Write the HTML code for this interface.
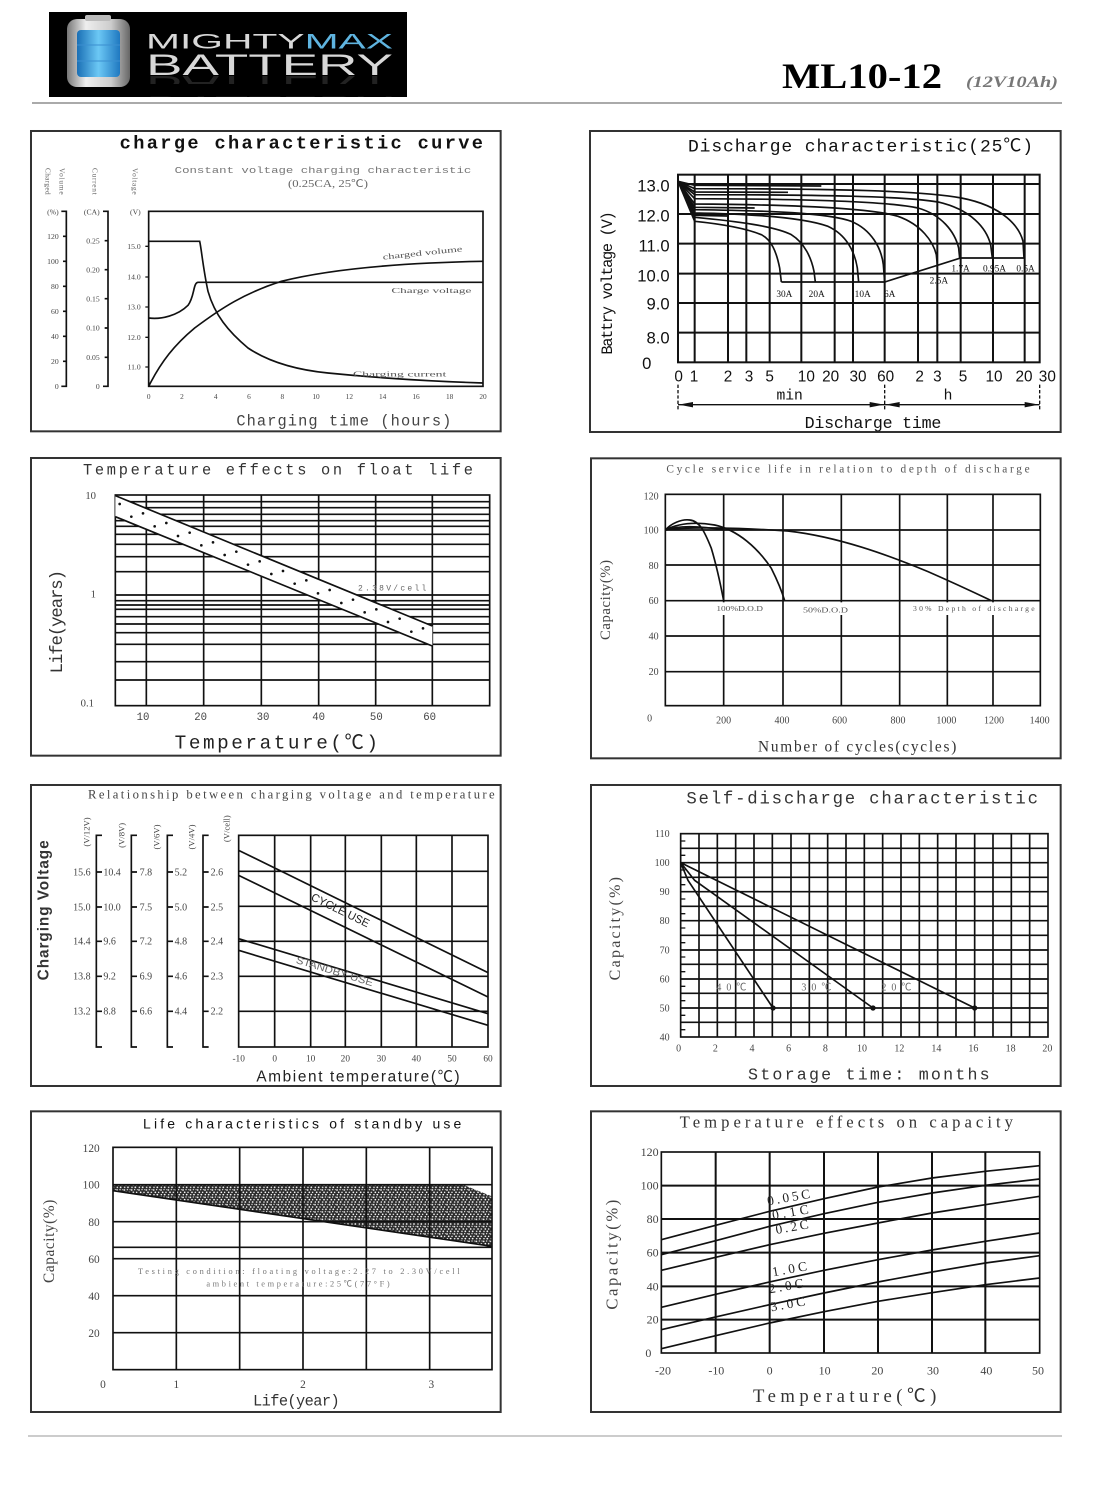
<!DOCTYPE html>
<html><head><meta charset="utf-8"><style>
html,body{margin:0;padding:0;background:#fff;}
svg{display:block;}
text{font-family:"Liberation Serif","Noto Sans CJK SC",serif;}
.m, .m text, text.m{font-family:"Liberation Mono","Noto Sans CJK SC",monospace;}
.s, .s text, text.s{font-family:"Liberation Sans","Noto Sans CJK SC",sans-serif;}
.g, .g text{fill:#444;}
.gr{stroke:#111;fill:none;}
.cv{stroke:#111;fill:none;stroke-width:5;}
</style></head><body>
<svg width="1114" height="1500" viewBox="0 0 1114 1500" xmlns="http://www.w3.org/2000/svg">
<defs>
<linearGradient id="silv" x1="0" x2="1" y1="0" y2="0"><stop offset="0" stop-color="#777"/><stop offset="0.3" stop-color="#eee"/><stop offset="0.7" stop-color="#ccc"/><stop offset="1" stop-color="#666"/></linearGradient>
<linearGradient id="blu" x1="0" x2="1" y1="0" y2="0"><stop offset="0" stop-color="#1a6fb5"/><stop offset="0.5" stop-color="#6cc8f5"/><stop offset="1" stop-color="#1f78c0"/></linearGradient>
<pattern id="spk" width="22" height="22" patternUnits="userSpaceOnUse">
<rect width="22" height="22" fill="#2a2a2a"/>
<circle cx="3" cy="4" r="2.6" fill="#fff"/><circle cx="12" cy="3" r="2" fill="#fff"/><circle cx="8" cy="11" r="2.6" fill="#fff"/><circle cx="18" cy="11" r="2.2" fill="#fff"/><circle cx="4" cy="18" r="2.2" fill="#fff"/><circle cx="14" cy="18" r="2.6" fill="#fff"/><circle cx="20" cy="3" r="1.6" fill="#fff"/>
</pattern>
</defs>
<rect width="1114" height="1500" fill="#fff"/>

<!-- HEADER -->
<rect x="49" y="12" width="358" height="85" fill="#000"/>
<rect x="67" y="19" width="63" height="68" rx="10" fill="url(#silv)"/>
<rect x="85" y="15" width="26" height="6" rx="2" fill="#bbb"/>
<rect x="77" y="30" width="43" height="47" rx="4" fill="url(#blu)"/>
<line x1="77" y1="45" x2="120" y2="45" stroke="#3b8fd0" stroke-width="1"/>
<line x1="77" y1="61" x2="120" y2="61" stroke="#3b8fd0" stroke-width="1"/>
<text class="s" x="146" y="48.5" font-size="21" textLength="247" lengthAdjust="spacingAndGlyphs"><tspan fill="#d8d8d8">MIGHTY</tspan><tspan fill="#5fb4e0">MAX</tspan></text>
<text class="s" x="146" y="75" font-size="30" fill="#d8d8d8" textLength="247" lengthAdjust="spacingAndGlyphs">BATTERY</text>
<text class="s" x="146" y="77" font-size="30" fill="#444" opacity="0.5" textLength="247" lengthAdjust="spacingAndGlyphs" transform="translate(0,153) scale(1,-1)">BATTERY</text>
<rect x="140" y="84" width="260" height="12" fill="#000"/>
<text x="782" y="88" font-size="36" font-weight="bold" fill="#000" textLength="160" lengthAdjust="spacingAndGlyphs">ML10-12</text>
<text x="966" y="87" font-size="16" font-style="italic" font-weight="bold" fill="#777" textLength="92" lengthAdjust="spacingAndGlyphs">(12V10Ah)</text>
<line x1="32" y1="103" x2="1062" y2="103" stroke="#aaa" stroke-width="2"/>

<!-- PANEL 1 -->
<g transform="translate(28,128) scale(0.33333)">
<rect x="9" y="9" width="1409" height="901" fill="none" stroke="#333" stroke-width="6"/>
<text class="m" x="275" y="62" font-size="56" font-weight="bold" fill="#111" textLength="1090" lengthAdjust="spacing">charge characteristic curve</text>
<text class="m" x="440" y="135" font-size="27" fill="#777" textLength="890" lengthAdjust="spacingAndGlyphs">Constant voltage charging characteristic</text>
<text x="780" y="177" font-size="30" fill="#666" textLength="240" lengthAdjust="spacingAndGlyphs">(0.25CA, 25℃)</text>
<text font-size="22" fill="#666" transform="translate(52,120) rotate(90)" textLength="80">Charged</text>
<text font-size="22" fill="#666" transform="translate(94,120) rotate(90)" textLength="80">Volume</text>
<text font-size="22" fill="#666" transform="translate(194,120) rotate(90)" textLength="80">Current</text>
<text font-size="22" fill="#666" transform="translate(314,120) rotate(90)" textLength="80">Voltage</text>
<rect x="362" y="250" width="1003" height="525" fill="none" stroke="#111" stroke-width="5"/>
<path class="gr" stroke-width="5" d="M100,250H115V775H100M105,325H115M105,400H115M105,475H115M105,550H115M105,625H115M105,700H115"/>
<path class="gr" stroke-width="5" d="M225,250H240V775H225M230,338H240M230,425H240M230,512H240M230,600H240M230,688H240"/>
<path class="gr" stroke-width="4" d="M352,355H362M352,447H362M352,537H362M352,628H362M352,717H362"/>
<g font-size="23" class="g" text-anchor="end">
<text x="92" y="260">(%)</text><text x="92" y="333">120</text><text x="92" y="408">100</text><text x="92" y="483">80</text><text x="92" y="558">60</text><text x="92" y="633">40</text><text x="92" y="708">20</text><text x="92" y="783">0</text>
<text x="215" y="260">(CA)</text><text x="215" y="346">0.25</text><text x="215" y="433">0.20</text><text x="215" y="520">0.15</text><text x="215" y="608">0.10</text><text x="215" y="696">0.05</text><text x="215" y="783">0</text>
<text x="338" y="260">(V)</text><text x="338" y="363">15.0</text><text x="338" y="455">14.0</text><text x="338" y="545">13.0</text><text x="338" y="636">12.0</text><text x="338" y="725">11.0</text>
</g>
<g font-size="22" class="g" text-anchor="middle">
<text x="362" y="813">0</text><text x="462" y="813">2</text><text x="563" y="813">4</text><text x="663" y="813">6</text><text x="763" y="813">8</text><text x="864" y="813">10</text><text x="964" y="813">12</text><text x="1064" y="813">14</text><text x="1164" y="813">16</text><text x="1265" y="813">18</text><text x="1365" y="813">20</text>
</g>
<text class="m" x="625" y="892" font-size="46" fill="#444" textLength="645" lengthAdjust="spacing">Charging time (hours)</text>
<path class="cv" d="M362,340 L515,340 C520,360 525,420 540,490 C560,560 600,610 660,660 C720,700 800,725 900,735 C1050,750 1200,760 1365,765"/>
<path class="cv" d="M362,570 C400,575 450,562 480,532 C500,505 495,465 510,463 L1365,463"/>
<path class="cv" d="M362,775 C400,700 440,650 500,600 C580,540 650,495 760,460 C900,425 1100,405 1365,400"/>
<text x="1065" y="395" font-size="24" fill="#555" textLength="240" lengthAdjust="spacingAndGlyphs" transform="rotate(-6 1065 395)">charged volume</text>
<text x="1090" y="495" font-size="22" fill="#555" textLength="240" lengthAdjust="spacingAndGlyphs">Charge voltage</text>
<text x="975" y="746" font-size="22" fill="#555" textLength="280" lengthAdjust="spacingAndGlyphs">Charging current</text>
</g>

<!-- PANEL 2 -->
<g transform="translate(588,128) scale(0.33333)">
<rect x="6" y="9" width="1412" height="903" fill="none" stroke="#333" stroke-width="6"/>
<text class="m" x="300" y="70" font-size="54" fill="#111" textLength="1035" lengthAdjust="spacing">Discharge characteristic(25℃)</text>
<rect x="270" y="140" width="1085" height="563" fill="none" stroke="#111" stroke-width="6"/>
<path class="gr" stroke-width="6" d="M270,168H1355M270,258H1355M270,347H1355M270,437H1355M270,525H1355M270,614H1355M320,140V703M420,140V703M475,140V703M545,140V703M640,140V703M740,140V703M795,140V703M890,140V703M990,140V703M1048,140V703M1118,140V703M1215,140V703M1310,140V703"/>
<g class="s" font-size="50" fill="#111" text-anchor="end">
<text x="245" y="190">13.0</text><text x="245" y="280">12.0</text><text x="245" y="370">11.0</text><text x="245" y="460">10.0</text><text x="245" y="545">9.0</text><text x="245" y="646">8.0</text><text x="190" y="723">0</text>
</g>
<g class="s" font-size="46" fill="#111" text-anchor="middle">
<text x="272" y="760">0</text><text x="318" y="760">1</text><text x="420" y="760">2</text><text x="483" y="760">3</text><text x="545" y="760">5</text><text x="655" y="760">10</text><text x="728" y="760">20</text><text x="810" y="760">30</text><text x="893" y="760">60</text><text x="995" y="760">2</text><text x="1048" y="760">3</text><text x="1125" y="760">5</text><text x="1218" y="760">10</text><text x="1308" y="760">20</text><text x="1378" y="760">30</text>
</g>
<text class="m" x="605" y="815" font-size="44" fill="#111" text-anchor="middle">min</text>
<text class="m" x="1080" y="815" font-size="44" fill="#111" text-anchor="middle">h</text>
<path stroke="#111" stroke-width="4" fill="none" d="M270,830H1355"/>
<path stroke="#111" stroke-width="4" fill="none" stroke-dasharray="10,6" d="M270,770V850M890,770V850M1355,770V850"/>
<path fill="#111" d="M272,830 L315,822 L315,838Z M888,830 L845,822 L845,838Z M892,830 L935,822 L935,838Z M1353,830 L1310,822 L1310,838Z"/>
<text class="m" x="650" y="900" font-size="50" fill="#111" textLength="410" lengthAdjust="spacing">Discharge time</text>
<text class="m" font-size="46" fill="#111" text-anchor="middle" transform="translate(72,465) rotate(-90)" textLength="430" lengthAdjust="spacing">Battry voltage (V)</text>
<g class="cv" stroke-width="5">
<path d="M270,160 L320,280 C400,288 470,300 520,320 C550,335 565,370 575,420 L580,462"/>
<path d="M270,160 L320,268 C450,280 560,295 610,320 C650,345 670,390 678,430 L682,462"/>
<path d="M270,160 L320,255 C500,258 650,270 720,295 C775,320 800,370 808,420 L812,462"/>
<path d="M270,160 L320,245 C550,248 720,255 790,280 C850,305 880,360 886,410 L890,462"/>
<path d="M270,160 L320,228 C600,230 850,240 930,265 C1000,290 1035,340 1045,380 L1048,412"/>
<path d="M270,160 L320,212 C650,213 900,220 990,240 C1060,260 1100,310 1112,360 L1115,390"/>
<path d="M270,160 L320,200 C700,200 950,205 1050,222 C1150,245 1195,300 1208,350 L1213,390"/>
<path d="M270,160 L320,182 C750,182 1000,188 1120,210 C1250,235 1295,300 1305,340 L1308,390"/>
<path d="M270,160 L320,172 L700,174 M270,160 L320,192 L600,193 M270,160 L320,238 L500,240 M270,160 L320,262 L420,264"/>
<path d="M580,462 L890,462 L1118,390 L1310,390"/>
</g>
<g font-size="28" fill="#111">
<text x="565" y="507">30A</text><text x="662" y="507">20A</text><text x="800" y="507">10A</text><text x="888" y="507">6A</text><text x="1025" y="467">2.5A</text><text x="1090" y="430">1.7A</text><text x="1185" y="430">0.95A</text><text x="1285" y="430">0.5A</text>
</g>
</g>

<!-- PANEL 3 -->
<g transform="translate(28,455) scale(0.33333)">
<rect x="9" y="9" width="1409" height="893" fill="none" stroke="#333" stroke-width="6"/>
<text class="m" x="165" y="58" font-size="46" fill="#333" textLength="1170" lengthAdjust="spacing">Temperature effects on float life</text>
<rect x="262" y="120" width="1123" height="632" fill="none" stroke="#111" stroke-width="5"/>
<path class="gr" stroke-width="5" d="M355,120V752M527,120V752M700,120V752M872,120V752M1043,120V752M1213,120V752M262,140H1385M262,158H1385M262,178H1385M262,197H1385M262,214H1385M262,238H1385M262,268H1385M262,305H1385M262,350H1385M262,420H1385M262,437H1385M262,450H1385M262,463H1385M262,485H1385M262,507H1385M262,533H1385M262,568H1385M262,620H1385M262,675H1385"/>
<path d="M262,122 L1213,513 L1213,573 L262,185Z" fill="#fff" stroke="none"/>
<path class="cv" d="M262,122 L1213,513 M262,185 L1213,573"/>
<g fill="#111">
<circle cx="275" cy="147" r="4"/><circle cx="310" cy="185" r="4"/><circle cx="345" cy="175" r="4"/><circle cx="380" cy="214" r="4"/><circle cx="415" cy="204" r="4"/><circle cx="450" cy="243" r="4"/><circle cx="485" cy="233" r="4"/><circle cx="520" cy="271" r="4"/><circle cx="555" cy="262" r="4"/><circle cx="590" cy="300" r="4"/><circle cx="625" cy="290" r="4"/><circle cx="660" cy="329" r="4"/><circle cx="695" cy="319" r="4"/><circle cx="730" cy="357" r="4"/><circle cx="765" cy="348" r="4"/><circle cx="800" cy="386" r="4"/><circle cx="835" cy="376" r="4"/><circle cx="870" cy="415" r="4"/><circle cx="905" cy="405" r="4"/><circle cx="940" cy="444" r="4"/><circle cx="975" cy="434" r="4"/><circle cx="1010" cy="472" r="4"/><circle cx="1045" cy="463" r="4"/><circle cx="1080" cy="501" r="4"/><circle cx="1115" cy="491" r="4"/><circle cx="1150" cy="530" r="4"/><circle cx="1185" cy="520" r="4"/>
</g>
<text class="m" x="990" y="406" font-size="24" fill="#666" textLength="205" lengthAdjust="spacing">2.38V/cell</text>
<g font-size="32" class="g">
<text x="172" y="132">10</text><text x="188" y="428">1</text><text x="158" y="755">0.1</text>
</g>
<g class="m g" font-size="32" text-anchor="middle">
<text x="345" y="795">10</text><text x="518" y="795">20</text><text x="705" y="795">30</text><text x="872" y="795">40</text><text x="1045" y="795">50</text><text x="1205" y="795">60</text>
</g>
<text class="m" font-size="52" fill="#333" text-anchor="middle" transform="translate(102,500) rotate(-90)" textLength="310" lengthAdjust="spacing">Life(years)</text>
<text class="m" x="440" y="880" font-size="58" fill="#222" textLength="610" lengthAdjust="spacing">Temperature(℃)</text>
</g>

<!-- PANEL 4 -->
<g transform="translate(588,455) scale(0.33333)">
<rect x="9" y="10" width="1409" height="900" fill="none" stroke="#333" stroke-width="6"/>
<text x="235" y="52" font-size="34" fill="#555" textLength="1090" lengthAdjust="spacing">Cycle service life in relation to depth of discharge</text>
<rect x="232" y="118" width="1125" height="634" fill="none" stroke="#111" stroke-width="5"/>
<path class="gr" stroke-width="5" d="M407,118V752M585,118V752M760,118V752M935,118V752M1078,118V752M1215,118V752M232,225H1357M232,330H1357M232,437H1357M232,543H1357M232,650H1357"/>
<path class="cv" d="M232,225 C250,205 280,192 305,195 C335,198 350,230 370,280 C385,330 398,390 407,437"/>
<path class="cv" d="M232,225 C270,205 320,200 380,210 C450,225 510,280 550,340 C570,380 582,410 590,437"/>
<path class="cv" d="M232,225 C300,215 450,218 600,228 C750,245 900,300 1020,350 C1100,385 1170,418 1210,437"/>
<path class="cv" stroke-width="4" d="M232,225 C270,212 330,212 410,225"/>
<rect x="380" y="442" width="150" height="38" fill="#fff"/>
<rect x="640" y="442" width="145" height="38" fill="#fff"/>
<rect x="970" y="442" width="375" height="38" fill="#fff"/>
<g font-size="23" fill="#555">
<text x="385" y="468" textLength="140" lengthAdjust="spacingAndGlyphs">100%D.O.D</text>
<text x="645" y="472" textLength="135" lengthAdjust="spacingAndGlyphs">50%D.O.D</text>
<text x="975" y="468" textLength="365" lengthAdjust="spacing">30% Depth of discharge</text>
</g>
<g font-size="30" class="g" text-anchor="end">
<text x="212" y="133">120</text><text x="212" y="235">100</text><text x="212" y="342">80</text><text x="212" y="447">60</text><text x="212" y="553">40</text><text x="212" y="660">20</text>
</g>
<g font-size="30" class="g" text-anchor="middle">
<text x="185" y="800">0</text><text x="407" y="805">200</text><text x="582" y="805">400</text><text x="755" y="805">600</text><text x="930" y="805">800</text><text x="1075" y="805">1000</text><text x="1218" y="805">1200</text><text x="1355" y="805">1400</text>
</g>
<text font-size="44" fill="#444" text-anchor="middle" transform="translate(66,435) rotate(-90)" textLength="240" lengthAdjust="spacing">Capacity(%)</text>
<text x="510" y="890" font-size="46" fill="#333" textLength="595" lengthAdjust="spacing">Number of cycles(cycles)</text>
</g>

<!-- PANEL 5 -->
<g transform="translate(28,782) scale(0.33333)">
<rect x="9" y="9" width="1409" height="903" fill="none" stroke="#333" stroke-width="6"/>
<text x="180" y="50" font-size="38" fill="#444" textLength="1220" lengthAdjust="spacing">Relationship between charging voltage and temperature</text>
<rect x="632" y="160" width="748" height="635" fill="none" stroke="#111" stroke-width="5"/>
<path class="gr" stroke-width="5" d="M740,160V795M848,160V795M952,160V795M1060,160V795M1165,160V795M1272,160V795M632,268H1380M632,373H1380M632,478H1380M632,583H1380M632,688H1380"/>
<path class="gr" stroke-width="5" d="M222,160H205V795H222M205,270H222M205,375H222M205,478H222M205,583H222M205,688H222"/>
<path class="gr" stroke-width="5" d="M327,160H310V795H327M310,270H327M310,375H327M310,478H327M310,583H327M310,688H327"/>
<path class="gr" stroke-width="5" d="M435,160H418V795H435M418,270H435M418,375H435M418,478H435M418,583H435M418,688H435"/>
<path class="gr" stroke-width="5" d="M542,160H525V795H542M525,270H542M525,375H542M525,478H542M525,583H542M525,688H542"/>
<g font-size="30" class="g">
<text x="188" y="280" text-anchor="end">15.6</text><text x="188" y="385" text-anchor="end">15.0</text><text x="188" y="488" text-anchor="end">14.4</text><text x="188" y="593" text-anchor="end">13.8</text><text x="188" y="698" text-anchor="end">13.2</text>
<text x="226" y="280">10.4</text><text x="226" y="385">10.0</text><text x="226" y="488">9.6</text><text x="226" y="593">9.2</text><text x="226" y="698">8.8</text>
<text x="335" y="280">7.8</text><text x="335" y="385">7.5</text><text x="335" y="488">7.2</text><text x="335" y="593">6.9</text><text x="335" y="698">6.6</text>
<text x="440" y="280">5.2</text><text x="440" y="385">5.0</text><text x="440" y="488">4.8</text><text x="440" y="593">4.6</text><text x="440" y="698">4.4</text>
<text x="548" y="280">2.6</text><text x="548" y="385">2.5</text><text x="548" y="488">2.4</text><text x="548" y="593">2.3</text><text x="548" y="698">2.2</text>
</g>
<g font-size="26" class="g" text-anchor="middle">
<text transform="translate(185,150) rotate(-90)">(V/12V)</text>
<text transform="translate(290,160) rotate(-90)">(V/8V)</text>
<text transform="translate(395,165) rotate(-90)">(V/6V)</text>
<text transform="translate(500,165) rotate(-90)">(V/4V)</text>
<text transform="translate(605,140) rotate(-90)">(V/cell)</text>
</g>
<text class="s" font-size="46" font-weight="bold" fill="#333" text-anchor="middle" transform="translate(62,385) rotate(-90)" textLength="420" lengthAdjust="spacing">Charging Voltage</text>
<text class="s" x="685" y="898" font-size="46" fill="#222" textLength="610" lengthAdjust="spacing">Ambient temperature(℃)</text>
<g font-size="28" class="g" text-anchor="middle">
<text x="632" y="838">-10</text><text x="740" y="838">0</text><text x="848" y="838">10</text><text x="952" y="838">20</text><text x="1060" y="838">30</text><text x="1165" y="838">40</text><text x="1272" y="838">50</text><text x="1380" y="838">60</text>
</g>
<path class="cv" stroke-width="6" d="M632,205 L1380,572 M632,280 L1380,645 M632,470 L1380,695 M632,505 L1380,730"/>
<text class="s" x="937" y="396" font-size="34" fill="#222" text-anchor="middle" transform="rotate(26 937 385)" textLength="190" lengthAdjust="spacingAndGlyphs">CYCLE USE</text>
<text class="s" x="920" y="578" font-size="30" fill="#666" text-anchor="middle" transform="rotate(17 920 568)" textLength="240" lengthAdjust="spacingAndGlyphs">STANDBY USE</text>
</g>

<!-- PANEL 6 -->
<g transform="translate(588,782) scale(0.33333)">
<rect x="9" y="9" width="1409" height="903" fill="none" stroke="#333" stroke-width="6"/>
<text class="m" x="295" y="65" font-size="52" fill="#333" textLength="1055" lengthAdjust="spacing">Self-discharge characteristic</text>
<rect x="278" y="155" width="1102" height="610" fill="none" stroke="#111" stroke-width="5"/>
<path class="gr" stroke-width="5" d="M333,155V765M388,155V765M443,155V765M498,155V765M553,155V765M609,155V765M664,155V765M719,155V765M774,155V765M829,155V765M884,155V765M939,155V765M994,155V765M1049,155V765M1104,155V765M1160,155V765M1215,155V765M1270,155V765M1325,155V765M278,199H1380M278,242H1380M278,286H1380M278,329H1380M278,373H1380M278,416H1380M278,460H1380M278,504H1380M278,547H1380M278,591H1380M278,634H1380M278,678H1380M278,721H1380"/>
<path class="gr" stroke-width="4" d="M278,177H292M278,220H292M278,264H292M278,308H292M278,351H292M278,395H292M278,438H292M278,482H292M278,525H292M278,569H292M278,613H292M278,656H292M278,700H292M278,743H292"/>
<path class="cv" stroke-width="6" d="M278,242 L300,295 L555,678 M278,242 L320,295 L855,678 M278,242 L1160,678"/>
<circle cx="555" cy="678" r="8" fill="#111"/><circle cx="855" cy="678" r="8" fill="#111"/><circle cx="1160" cy="678" r="8" fill="#111"/>
<g font-size="30" fill="#666">
<text x="385" y="625" textLength="90">40℃</text><text x="640" y="625" textLength="90">30℃</text><text x="880" y="625" textLength="90">20℃</text>
</g>
<g font-size="30" class="g" text-anchor="end">
<text x="245" y="165">110</text><text x="245" y="252">100</text><text x="245" y="339">90</text><text x="245" y="426">80</text><text x="245" y="514">70</text><text x="245" y="601">60</text><text x="245" y="688">50</text><text x="245" y="775">40</text>
</g>
<g font-size="30" class="g" text-anchor="middle">
<text x="272" y="808">0</text><text x="382" y="808">2</text><text x="492" y="808">4</text><text x="602" y="808">6</text><text x="712" y="808">8</text><text x="822" y="808">10</text><text x="934" y="808">12</text><text x="1045" y="808">14</text><text x="1156" y="808">16</text><text x="1268" y="808">18</text><text x="1378" y="808">20</text>
</g>
<text font-size="48" fill="#444" text-anchor="middle" transform="translate(96,440) rotate(-90)" textLength="310" lengthAdjust="spacing">Capacity(%)</text>
<text class="m" x="480" y="892" font-size="50" fill="#333" textLength="725" lengthAdjust="spacing">Storage time: months</text>
</g>

<!-- PANEL 7 -->
<g transform="translate(28,1108) scale(0.33333)">
<rect x="9" y="10" width="1409" height="902" fill="none" stroke="#333" stroke-width="6"/>
<text class="s" x="345" y="62" font-size="42" fill="#111" textLength="955" lengthAdjust="spacing">Life characteristics of standby use</text>
<path d="M255,232 L1310,232 L1392,265 L1392,415 L255,248Z" fill="url(#spk)"/>
<rect x="255" y="118" width="1137" height="667" fill="none" stroke="#111" stroke-width="5"/>
<path class="gr" stroke-width="5" d="M445,118V785M635,118V785M825,118V785M1015,118V785M1205,118V785M255,230H1392M255,341H1392M255,418H1392M255,452H1392M255,563H1392M255,674H1392"/>
<path class="cv" stroke-width="4" d="M255,248 L1392,415"/>
<text x="330" y="498" font-size="25" fill="#777" textLength="965" lengthAdjust="spacing">Testing condition: floating voltage:2.27 to 2.30V/cell</text>
<text x="535" y="535" font-size="25" fill="#777" textLength="550" lengthAdjust="spacing">ambient temperature:25℃(77°F)</text>
<g font-size="34" class="g" text-anchor="end">
<text x="215" y="132">120</text><text x="215" y="242">100</text><text x="215" y="354">80</text><text x="215" y="465">60</text><text x="215" y="576">40</text><text x="215" y="687">20</text>
</g>
<g font-size="34" class="g" text-anchor="middle">
<text x="225" y="840">0</text><text x="445" y="840">1</text><text x="825" y="840">2</text><text x="1210" y="840">3</text>
</g>
<text font-size="46" fill="#444" text-anchor="middle" transform="translate(78,400) rotate(-90)" textLength="250" lengthAdjust="spacing">Capacity(%)</text>
<text class="m" x="675" y="892" font-size="46" fill="#333" textLength="260" lengthAdjust="spacing">Life(year)</text>
</g>

<!-- PANEL 8 -->
<g transform="translate(588,1108) scale(0.33333)">
<rect x="9" y="10" width="1409" height="902" fill="none" stroke="#333" stroke-width="6"/>
<text x="275" y="58" font-size="50" fill="#333" textLength="1000" lengthAdjust="spacing">Temperature effects on capacity</text>
<rect x="220" y="132" width="1135" height="603" fill="none" stroke="#111" stroke-width="5"/>
<path class="gr" stroke-width="6" d="M383,132V735M545,132V735M708,132V735M870,132V735M1032,132V735M1192,132V735M220,233H1355M220,333H1355M220,434H1355M220,535H1355M220,635H1355"/>
<g class="cv" stroke-width="5">
<polyline points="220,395 383,352 545,310 708,272 870,237 1032,210 1192,190 1355,173"/>
<polyline points="220,440 383,398 545,355 708,317 870,283 1032,255 1192,232 1355,213"/>
<polyline points="220,487 383,448 545,410 708,376 870,345 1032,315 1192,290 1355,265"/>
<polyline points="220,598 383,559 545,522 708,487 870,455 1032,426 1192,400 1355,375"/>
<polyline points="220,665 383,627 545,590 708,555 870,522 1032,492 1192,465 1355,443"/>
<polyline points="220,722 383,683 545,645 708,611 870,580 1032,554 1192,530 1355,510"/>
</g>
<g font-size="40" fill="#222">
<text x="540" y="292" transform="rotate(-10 540 292)" textLength="130">0.05C</text>
<text x="555" y="335" transform="rotate(-10 555 335)" textLength="110">0.1C</text>
<text x="565" y="378" transform="rotate(-10 565 378)" textLength="100">0.2C</text>
<text x="555" y="505" transform="rotate(-10 555 505)" textLength="105">1.0C</text>
<text x="545" y="556" transform="rotate(-10 545 556)" textLength="105">2.0C</text>
<text x="550" y="610" transform="rotate(-10 550 610)" textLength="105">3.0C</text>
</g>
<g font-size="36" class="g" text-anchor="end">
<text x="212" y="144">120</text><text x="212" y="245">100</text><text x="212" y="345">80</text><text x="212" y="446">60</text><text x="212" y="547">40</text><text x="212" y="647">20</text><text x="190" y="747">0</text>
</g>
<g font-size="36" class="g" text-anchor="middle">
<text x="225" y="800">-20</text><text x="385" y="800">-10</text><text x="545" y="800">0</text><text x="710" y="800">10</text><text x="868" y="800">20</text><text x="1035" y="800">30</text><text x="1195" y="800">40</text><text x="1350" y="800">50</text>
</g>
<text font-size="50" fill="#444" text-anchor="middle" transform="translate(88,440) rotate(-90)" textLength="330" lengthAdjust="spacing">Capacity(%)</text>
<text x="495" y="882" font-size="56" fill="#333" textLength="550" lengthAdjust="spacing">Temperature(℃)</text>
</g>

<line x1="28" y1="1436" x2="1062" y2="1436" stroke="#999" stroke-width="1"/>
</svg>
</body></html>
